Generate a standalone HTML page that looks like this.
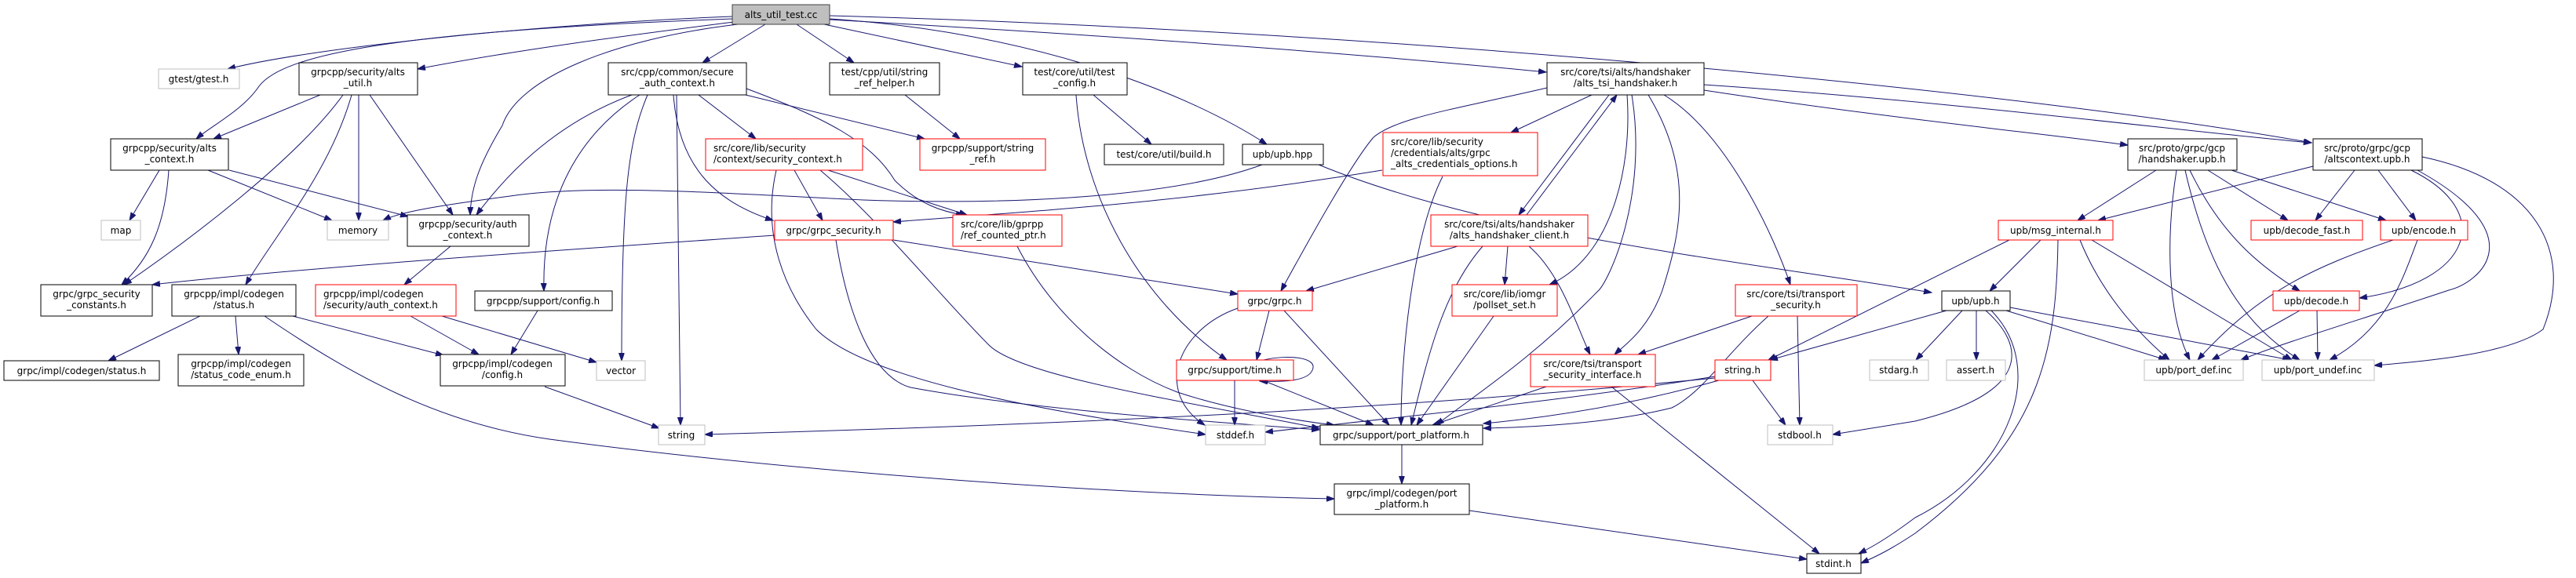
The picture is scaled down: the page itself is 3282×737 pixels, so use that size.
<!DOCTYPE html>
<html><head><meta charset="utf-8"><style>
html,body{margin:0;padding:0;background:#fff;}
svg{display:block;}
text{font-family:"DejaVu Sans","Liberation Sans",sans-serif;font-size:12px;fill:#000;}
.n{fill:#fff;stroke:#000;stroke-width:1;}
.r{fill:#fff;stroke:#ff0000;stroke-width:1;}
.g{fill:#fff;stroke:#bfbfbf;stroke-width:1;}
.e{fill:none;stroke:#191970;stroke-width:1;}
</style></head><body>
<svg width="3282" height="737" viewBox="0 0 3282 737" xmlns="http://www.w3.org/2000/svg">
<defs><marker id="a" markerUnits="userSpaceOnUse" markerWidth="11" markerHeight="8" refX="10" refY="3.5" orient="auto"><path d="M0,0 L10,3.5 L0,7 z" fill="#191970" stroke="#191970"/></marker></defs>
<g class="e" marker-end="url(#a)">
<path d="M933,21 C700,30 400,60 290,88"/>
<path d="M933,24 C500,40 360,70 330,110 C310,140 270,160 250,177"/>
<path d="M935,28 C800,45 650,65 532,88"/>
<path d="M940,31 C780,50 660,100 640,160 C610,210 600,240 599,274"/>
<path d="M975,31 L895,80"/>
<path d="M1015,31 L1088,80"/>
<path d="M1050,31 L1302,85"/>
<path d="M1057,24 C1300,40 1500,110 1614,184"/>
<path d="M1057,25 C1500,50 1800,75 1970,92"/>
<path d="M1057,20 C1800,40 2600,120 2945,182"/>
<path d="M408,121 L272,177"/>
<path d="M437,121 C380,200 250,300 158,363"/>
<path d="M448,121 C420,220 350,300 313,363"/>
<path d="M457,121 L457,281"/>
<path d="M471,121 L577,274"/>
<path d="M203,217 L165,281"/>
<path d="M215,217 C210,290 190,330 155,363"/>
<path d="M265,217 L423,281"/>
<path d="M292,217 L520,276"/>
<path d="M574,314 L515,363"/>
<path d="M523,403 L610,452"/>
<path d="M563,403 L760,462"/>
<path d="M685,396 L651,452"/>
<path d="M255,403 L138,460"/>
<path d="M300,403 L304,452"/>
<path d="M373,403 L565,453"/>
<path d="M337,403 C450,480 560,540 700,560 C1000,600 1400,630 1700,636"/>
<path d="M694,493 L840,546"/>
<path d="M805,121 C700,160 640,230 607,274"/>
<path d="M815,121 C740,170 690,250 693,371"/>
<path d="M825,121 C800,180 792,250 792,460"/>
<path d="M862,121 L867,542"/>
<path d="M858,121 C865,220 920,260 985,281"/>
<path d="M890,121 L963,177"/>
<path d="M950,121 L1178,177"/>
<path d="M951,113 C1050,150 1110,180 1140,230 C1170,260 1200,270 1228,274"/>
<path d="M1608,210 C1500,250 1300,262 1100,255 C900,245 750,235 650,250 C560,262 510,270 488,281"/>
<path d="M1761,217 C1500,260 1300,270 1138,283"/>
<path d="M987,300 C700,320 400,340 194,363"/>
<path d="M1153,121 L1223,177"/>
<path d="M1393,121 L1467,184"/>
<path d="M1371,121 C1380,250 1450,380 1563,459"/>
<path d="M1012,217 L1048,281"/>
<path d="M1055,217 L1232,274"/>
<path d="M989,217 C970,300 1000,370 1040,420 C1100,480 1300,520 1536,554"/>
<path d="M1045,217 C1120,280 1200,380 1260,440 C1300,480 1500,510 1681,546"/>
<path d="M1138,306 L1577,375"/>
<path d="M1065,306 C1080,400 1110,480 1160,494 C1300,520 1500,535 1681,548"/>
<path d="M1296,314 C1340,400 1420,470 1500,500 C1560,520 1640,535 1700,542"/>
<path d="M1680,210 C1900,300 2200,330 2461,373"/>
<path d="M1610,459 C1640,452 1680,455 1672,472 C1666,487 1630,487 1605,486"/>
<path d="M1573,485 L1573,542"/>
<path d="M1609,485 L1750,542"/>
<path d="M1617,396 L1601,459"/>
<path d="M1577,393 C1500,420 1470,500 1535,542"/>
<path d="M1636,396 L1770,542"/>
<path d="M2028,121 L1925,169"/>
<path d="M1971,112 C1850,140 1780,150 1750,175 C1720,210 1660,320 1632,371"/>
<path d="M2050,121 L1935,274"/>
<path d="M1945,274 L2060,121"/>
<path d="M2073,121 C2080,220 2050,330 1974,363"/>
<path d="M2079,121 C2100,250 2050,360 2035,372 C1950,460 1870,510 1830,542"/>
<path d="M2100,121 C2160,220 2140,300 2118,370 C2100,420 2070,440 2057,452"/>
<path d="M2120,121 C2200,170 2260,300 2281,363"/>
<path d="M2171,115 C2400,150 2600,170 2711,185"/>
<path d="M2171,108 C2500,130 2800,170 2945,182"/>
<path d="M1838,225 C1800,300 1785,450 1785,542"/>
<path d="M1857,314 L1664,371"/>
<path d="M1921,314 L1917,363"/>
<path d="M1948,314 C1990,350 2010,420 2026,452"/>
<path d="M1889,314 C1840,370 1820,450 1798,542"/>
<path d="M1903,403 L1805,542"/>
<path d="M2232,403 L2087,452"/>
<path d="M2253,403 C2200,450 2170,500 2130,520 C2050,540 1950,545 1890,546"/>
<path d="M2290,403 L2293,542"/>
<path d="M1970,493 L1825,542"/>
<path d="M2053,493 L2318,706"/>
<path d="M2185,480 C2000,510 1800,530 1612,551"/>
<path d="M2190,485 C2100,510 2000,530 1890,540"/>
<path d="M2233,485 L2275,542"/>
<path d="M2185,482 C1800,520 1400,540 898,554"/>
<path d="M1786,567 L1786,617"/>
<path d="M1872,651 L2302,713"/>
<path d="M2480,396 L2255,459"/>
<path d="M2500,396 L2441,459"/>
<path d="M2518,396 L2518,459"/>
<path d="M2530,396 C2580,440 2590,500 2440,537 L2335,554"/>
<path d="M2537,396 C2610,470 2560,600 2440,660 C2400,690 2380,700 2368,706"/>
<path d="M2622,306 C2620,450 2600,560 2440,680 C2410,700 2390,710 2371,718"/>
<path d="M2556,396 L2760,459"/>
<path d="M2561,392 L2918,459"/>
<path d="M2600,306 L2535,371"/>
<path d="M2560,306 L2253,459"/>
<path d="M2650,306 C2680,380 2730,430 2764,459"/>
<path d="M2665,306 L2920,459"/>
<path d="M2747,217 L2647,281"/>
<path d="M2773,217 C2760,300 2760,400 2790,459"/>
<path d="M2784,217 C2810,330 2850,410 2930,459"/>
<path d="M2790,217 C2830,300 2880,340 2930,371"/>
<path d="M2813,217 L2915,281"/>
<path d="M2843,217 L3040,281"/>
<path d="M2947,212 L2673,281"/>
<path d="M3000,217 L2950,281"/>
<path d="M3030,217 L3078,281"/>
<path d="M3072,217 C3180,270 3150,360 3006,380"/>
<path d="M3080,217 C3230,300 3160,360 3120,370 C3000,410 2900,440 2855,459"/>
<path d="M3086,200 C3230,230 3280,320 3240,420 C3200,450 3100,460 3025,466"/>
<path d="M3049,306 C2950,340 2880,370 2800,459"/>
<path d="M3080,306 C3060,360 3040,420 2968,459"/>
<path d="M2930,396 L2818,459"/>
<path d="M2952,396 L2953,459"/>
</g>
<g>
<rect x="933" y="6" width="124" height="25" fill="#bfbfbf" stroke="#404040"/><text x="995" y="23" text-anchor="middle">alts_util_test.cc</text>
<rect class="g" x="202" y="88" width="103" height="25"/><text x="253" y="105" text-anchor="middle">gtest/gtest.h</text>
<rect class="n" x="381" y="80" width="151" height="41"/><text x="456" y="96" text-anchor="middle">grpcpp/security/alts</text><text x="456" y="110" text-anchor="middle">_util.h</text>
<rect class="n" x="141" y="177" width="150" height="40"/><text x="216" y="193" text-anchor="middle">grpcpp/security/alts</text><text x="216" y="207" text-anchor="middle">_context.h</text>
<rect class="g" x="129" y="281" width="50" height="25"/><text x="154" y="298" text-anchor="middle">map</text>
<rect class="g" x="417" y="281" width="78" height="25"/><text x="456" y="298" text-anchor="middle">memory</text>
<rect class="n" x="519" y="274" width="155" height="40"/><text x="596" y="290" text-anchor="middle">grpcpp/security/auth</text><text x="596" y="304" text-anchor="middle">_context.h</text>
<rect class="n" x="52" y="363" width="142" height="40"/><text x="123" y="379" text-anchor="middle">grpc/grpc_security</text><text x="123" y="393" text-anchor="middle">_constants.h</text>
<rect class="n" x="219" y="363" width="158" height="40"/><text x="298" y="379" text-anchor="middle">grpcpp/impl/codegen</text><text x="298" y="393" text-anchor="middle">/status.h</text>
<rect class="r" x="402" y="363" width="179" height="40"/><text x="412" y="379">grpcpp/impl/codegen</text><text x="412" y="393">/security/auth_context.h</text>
<rect class="n" x="605" y="371" width="175" height="25"/><text x="692" y="388" text-anchor="middle">grpcpp/support/config.h</text>
<rect class="n" x="5" y="460" width="198" height="25"/><text x="104" y="477" text-anchor="middle">grpc/impl/codegen/status.h</text>
<rect class="n" x="227" y="452" width="160" height="40"/><text x="307" y="468" text-anchor="middle">grpcpp/impl/codegen</text><text x="307" y="482" text-anchor="middle">/status_code_enum.h</text>
<rect class="n" x="561" y="452" width="159" height="40"/><text x="640" y="468" text-anchor="middle">grpcpp/impl/codegen</text><text x="640" y="482" text-anchor="middle">/config.h</text>
<rect class="g" x="760" y="460" width="62" height="25"/><text x="791" y="477" text-anchor="middle">vector</text>
<rect class="n" x="775" y="80" width="176" height="41"/><text x="863" y="96" text-anchor="middle">src/cpp/common/secure</text><text x="863" y="110" text-anchor="middle">_auth_context.h</text>
<rect class="n" x="1057" y="80" width="140" height="41"/><text x="1127" y="96" text-anchor="middle">test/cpp/util/string</text><text x="1127" y="110" text-anchor="middle">_ref_helper.h</text>
<rect class="n" x="1303" y="80" width="133" height="41"/><text x="1369" y="96" text-anchor="middle">test/core/util/test</text><text x="1369" y="110" text-anchor="middle">_config.h</text>
<rect class="r" x="899" y="177" width="200" height="40"/><text x="909" y="193">src/core/lib/security</text><text x="909" y="207">/context/security_context.h</text>
<rect class="r" x="1172" y="177" width="160" height="40"/><text x="1252" y="193" text-anchor="middle">grpcpp/support/string</text><text x="1252" y="207" text-anchor="middle">_ref.h</text>
<rect class="n" x="1407" y="184" width="152" height="26"/><text x="1483" y="201" text-anchor="middle">test/core/util/build.h</text>
<rect class="n" x="1583" y="184" width="103" height="26"/><text x="1634" y="201" text-anchor="middle">upb/upb.hpp</text>
<rect class="r" x="987" y="281" width="151" height="25"/><text x="1062" y="298" text-anchor="middle">grpc/grpc_security.h</text>
<rect class="r" x="1214" y="274" width="139" height="40"/><text x="1224" y="290">src/core/lib/gprpp</text><text x="1224" y="304">/ref_counted_ptr.h</text>
<rect class="g" x="839" y="542" width="59" height="25"/><text x="868" y="559" text-anchor="middle">string</text>
<rect class="g" x="1536" y="542" width="76" height="25"/><text x="1574" y="559" text-anchor="middle">stddef.h</text>
<rect class="r" x="1499" y="459" width="149" height="26"/><text x="1573" y="476" text-anchor="middle">grpc/support/time.h</text>
<rect class="r" x="1577" y="371" width="95" height="25"/><text x="1624" y="388" text-anchor="middle">grpc/grpc.h</text>
<rect class="n" x="1971" y="80" width="200" height="41"/><text x="2071" y="96" text-anchor="middle">src/core/tsi/alts/handshaker</text><text x="2071" y="110" text-anchor="middle">/alts_tsi_handshaker.h</text>
<rect class="r" x="1762" y="169" width="197" height="55"/><text x="1772" y="185">src/core/lib/security</text><text x="1772" y="199">/credentials/alts/grpc</text><text x="1772" y="213">_alts_credentials_options.h</text>
<rect class="r" x="1823" y="274" width="200" height="40"/><text x="1923" y="290" text-anchor="middle">src/core/tsi/alts/handshaker</text><text x="1923" y="304" text-anchor="middle">/alts_handshaker_client.h</text>
<rect class="r" x="1850" y="363" width="134" height="40"/><text x="1917" y="379" text-anchor="middle">src/core/lib/iomgr</text><text x="1917" y="393" text-anchor="middle">/pollset_set.h</text>
<rect class="r" x="2211" y="363" width="155" height="40"/><text x="2288" y="379" text-anchor="middle">src/core/tsi/transport</text><text x="2288" y="393" text-anchor="middle">_security.h</text>
<rect class="n" x="1682" y="542" width="207" height="25" stroke-width="1.5"/><text x="1785" y="559" text-anchor="middle">grpc/support/port_platform.h</text>
<rect class="r" x="1950" y="452" width="159" height="41"/><text x="2029" y="468" text-anchor="middle">src/core/tsi/transport</text><text x="2029" y="482" text-anchor="middle">_security_interface.h</text>
<rect class="r" x="2185" y="459" width="71" height="26"/><text x="2220" y="476" text-anchor="middle">string.h</text>
<rect class="g" x="2252" y="542" width="83" height="25"/><text x="2293" y="559" text-anchor="middle">stdbool.h</text>
<rect class="g" x="2382" y="459" width="75" height="26"/><text x="2419" y="476" text-anchor="middle">stdarg.h</text>
<rect class="n" x="1700" y="617" width="172" height="39"/><text x="1786" y="633" text-anchor="middle">grpc/impl/codegen/port</text><text x="1786" y="647" text-anchor="middle">_platform.h</text>
<rect class="n" x="2302" y="706" width="69" height="25"/><text x="2336" y="723" text-anchor="middle">stdint.h</text>
<rect class="n" x="2711" y="177" width="139" height="40"/><text x="2780" y="193" text-anchor="middle">src/proto/grpc/gcp</text><text x="2780" y="207" text-anchor="middle">/handshaker.upb.h</text>
<rect class="n" x="2947" y="177" width="139" height="40"/><text x="3016" y="193" text-anchor="middle">src/proto/grpc/gcp</text><text x="3016" y="207" text-anchor="middle">/altscontext.upb.h</text>
<rect class="r" x="2546" y="281" width="146" height="25"/><text x="2619" y="298" text-anchor="middle">upb/msg_internal.h</text>
<rect class="r" x="2868" y="281" width="142" height="25"/><text x="2939" y="298" text-anchor="middle">upb/decode_fast.h</text>
<rect class="r" x="3033" y="281" width="111" height="25"/><text x="3088" y="298" text-anchor="middle">upb/encode.h</text>
<rect class="n" x="2474" y="371" width="87" height="25"/><text x="2517" y="388" text-anchor="middle">upb/upb.h</text>
<rect class="r" x="2896" y="371" width="110" height="25"/><text x="2951" y="388" text-anchor="middle">upb/decode.h</text>
<rect class="g" x="2480" y="459" width="75" height="26"/><text x="2517" y="476" text-anchor="middle">assert.h</text>
<rect class="g" x="2732" y="459" width="126" height="26"/><text x="2795" y="476" text-anchor="middle">upb/port_def.inc</text>
<rect class="g" x="2882" y="459" width="143" height="26"/><text x="2953" y="476" text-anchor="middle">upb/port_undef.inc</text>
</g>
</svg>
</body></html>
